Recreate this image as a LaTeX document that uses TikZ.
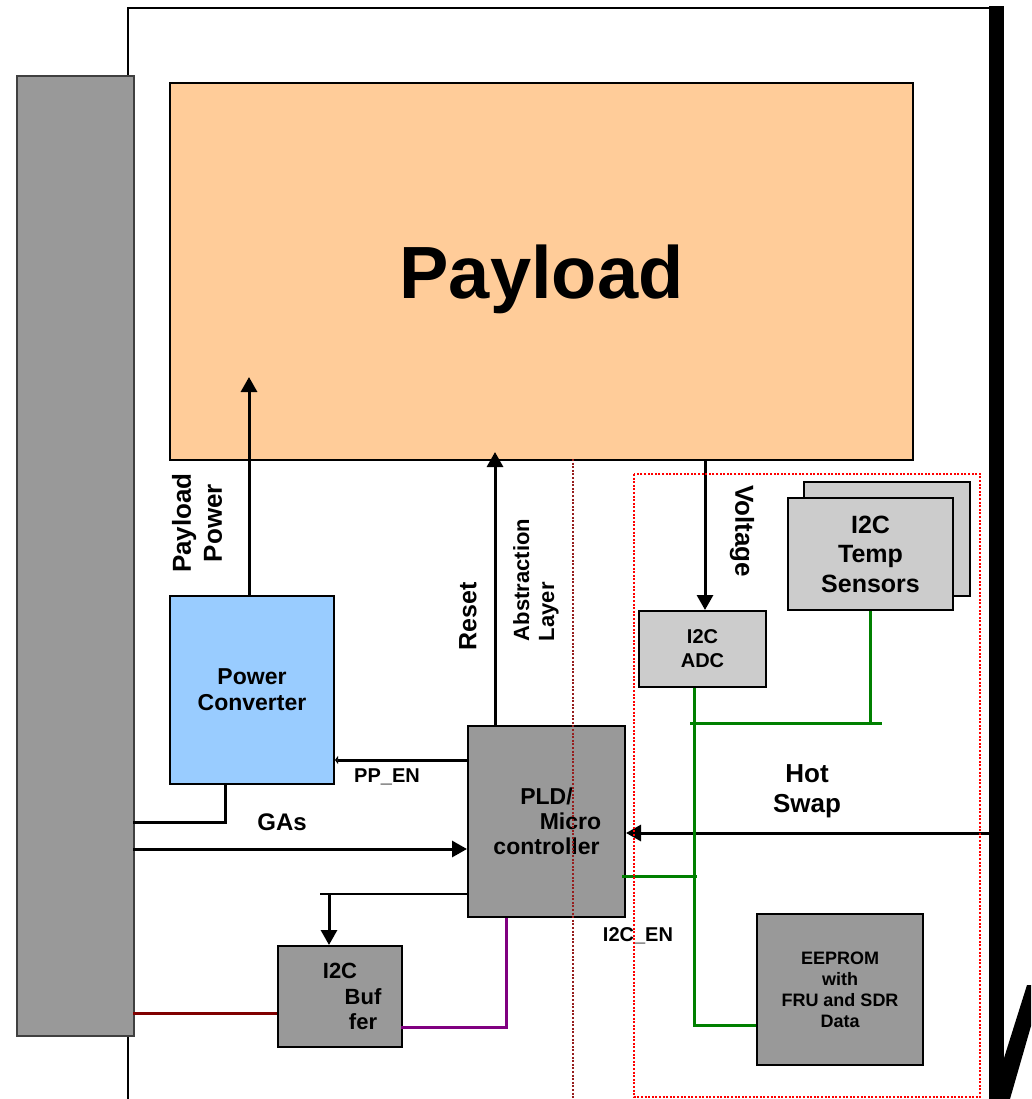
\documentclass[tikz,border=0pt]{standalone}
\usepackage{fontspec}
\setmainfont{Liberation Sans}
\usetikzlibrary{arrows.meta,calc}
\definecolor{peach}{RGB}{255,204,153}
\definecolor{skyblue}{RGB}{153,204,255}
\definecolor{boxgray}{RGB}{153,153,153}
\definecolor{palegray}{RGB}{204,204,204}
\definecolor{busgreen}{RGB}{0,128,0}
\definecolor{wirered}{RGB}{128,0,0}
\definecolor{wirepurple}{RGB}{128,0,128}
\definecolor{dotred}{RGB}{255,0,0}
\definecolor{dotdark}{RGB}{150,30,30}
\newcommand{\fsz}[2]{\fontsize{#1}{#2}\selectfont\bfseries}

\begin{document}
\begin{tikzpicture}[
  x=1pt, y=-1pt,
  font=\bfseries,
  blk/.style={draw, line width=2pt, anchor=north west, inner sep=0pt, align=center},
  arr/.style={-{Triangle[length=15pt,width=16pt]}, line width=3pt},
  tinyarr/.style={-{Triangle[length=3pt,width=8pt]}, line width=3pt},
  wire/.style={line width=3pt},
  thinwire/.style={line width=2pt},
  i2cbus/.style={busgreen, line width=3pt},
  zone/.style={line width=2pt, dash pattern=on 2pt off 1.6pt}
]
\useasboundingbox (0,0) rectangle (1031,1099);

% board outline and chassis bar
\coordinate (brdBL) at (128,1099);
\coordinate (brdTL) at (128,8);
\coordinate (brdTR) at (990,8);
\draw[thinwire] (brdBL) -- (brdTL) -- (brdTR);
\fill (989,6) rectangle (1004,1099);
\fill (1004,1058) -- (1027,985) -- (1031,985) -- (1031,1026) -- (1010,1099) -- (1004,1099) -- cycle;

% blocks
\node[blk, draw=black!75, fill=boxgray, minimum width=117pt, minimum height=960pt] (bp) at (16,75) {};
\node[blk, fill=peach, minimum width=743pt, minimum height=377pt, text depth=0pt,
  font=\fsz{74}{80}] (payload) at (169,82) {Payload};
\node[blk, fill=skyblue, minimum width=164pt, minimum height=188pt,
  font=\fsz{23}{26}] (pc) at (169,595) {Power\\Converter};
\node[blk, fill=boxgray, minimum width=157pt, minimum height=191pt,
  font=\fsz{23}{25}] (pld) at (467,725) {PLD/\\\hspace*{48pt}Micro\\controller};
\node[blk, fill=boxgray, minimum width=124pt, minimum height=101pt,
  font=\fsz{22}{25.5}] (buf) at (277,945) {I2C\\\hspace*{46pt}Buf\\\hspace*{46pt}fer};
\node[blk, fill=palegray, minimum width=127pt, minimum height=76pt,
  font=\fsz{20}{24}] (adc) at (638,610) {I2C\\ADC};
\node[blk, fill=palegray, minimum width=166pt, minimum height=114pt] (tsback) at (803,481) {};
\node[blk, fill=palegray, minimum width=165pt, minimum height=112pt,
  font=\fsz{25}{29.5}] (ts) at (787,497) {I2C\\Temp\\Sensors};
\node[blk, fill=boxgray, minimum width=166pt, minimum height=151pt,
  font=\fsz{18}{21}] (eeprom) at (756,913) {EEPROM\\with\\FRU and SDR\\Data};

% labels
\node[rotate=90, align=center, font=\fsz{26}{31}] (pwrlbl) at (197,523) {Payload\\Power};
\node[rotate=90, font=\fsz{25}{30}] (rstlbl) at (468,616) {Reset};
\node[rotate=90, align=left, font=\fsz{22}{25}] (abslbl) at (536,580) {Abstraction\\Layer};
\node[rotate=-90, font=\fsz{26}{30}] (vltlbl) at (742,531) {Voltage};
\node[align=center, font=\fsz{26}{30}] (hotlbl) at (807,791) {Hot\\Swap};
\node[font=\fsz{20}{24}] (pplbl) at (387,777) {PP\_EN};
\node[font=\fsz{24}{28}] (galbl) at (282,822) {GAs};
\node[font=\fsz{20}{24}] (enlbl) at (638,936) {I2C\_EN};

% connectors
\coordinate (pwrtip) at (249,377);
\draw[arr] (pwrtip |- pc.north) -- (pwrtip);
\coordinate (rsttip) at (495,452);
\draw[arr] (pld.north -| rsttip) -- (rsttip);
\coordinate (vlttop) at (705,459);
\draw[arr] (vlttop) -- (vlttop |- adc.north);
\coordinate (hsw) at (990,833);
\draw[arr] (hsw) -- (hsw -| pld.east);
\coordinate (ppen) at (467,760);
\draw[tinyarr] (ppen) -- (ppen -| pc.east);
\coordinate (gaA) at (133,822);
\draw[wire] (gaA) -| ([xshift=-27pt]pc.south);
\coordinate (gaB) at (133,849);
\draw[arr] (gaB) -- (gaB -| pld.west);
\coordinate (bufTap) at (320,894);
\draw[thinwire] (bufTap -| pld.west) -- (bufTap);
\coordinate (bufDrop) at (329,894);
\draw[arr] (bufDrop) -- (bufDrop |- buf.north);
\coordinate (bpI2C) at (133,1013);
\draw[wire, wirered] (bpI2C) -- (bpI2C -| buf.west);
\coordinate (bufOut) at (401,1027);
\draw[wire, wirepurple] (bufOut) -| ([xshift=39pt]pld.south west);

% i2c bus
\coordinate (busX) at (694,1025);
\draw[i2cbus] (busX |- adc.south) -- (busX) -- (busX -| eeprom.west);
\coordinate (tsBusL) at (690,723);
\coordinate (tsBusR) at (882,723);
\draw[i2cbus] (tsBusL) -- (tsBusR);
\draw[i2cbus] (ts.south) -- (ts.south |- tsBusL);
\coordinate (pldBus) at (697,876);
\draw[i2cbus] ([xshift=-4pt]pldBus -| pld.east) -- (pldBus);

% zones
\coordinate (zoneTop) at (573,459);
\coordinate (zoneBot) at (573,1099);
\draw[zone, dotdark] (zoneTop) -- (zoneBot);
\draw[zone, dotred] (634,474) rectangle (980,1097);
\end{tikzpicture}
\end{document}
